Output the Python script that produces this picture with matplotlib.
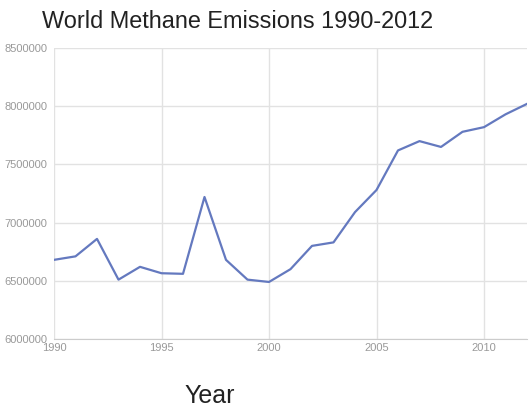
import matplotlib.pyplot as plt
import numpy as np

plt.rcParams['font.family'] = ['Liberation Sans', 'DejaVu Sans']

years = np.arange(1990, 2013)
emissions = [6680000, 6710000, 6860000, 6510000, 6620000, 6565000, 6560000,
             7220000, 6680000, 6510000, 6490000, 6600000, 6800000, 6830000,
             7090000, 7280000, 7620000, 7700000, 7650000, 7780000, 7820000,
             7930000, 8020000]
y_ticks = [6000000, 6500000, 7000000, 7500000, 8000000, 8500000]
x_ticks = [1990, 1995, 2000, 2005, 2010]

W, H = 531, 408
fig = plt.figure(figsize=(W / 100, H / 100), dpi=100)
fig.patch.set_facecolor('white')
left, right, top, bottom = 54, 527, 48, 339
ax = fig.add_axes([left / W, 1 - bottom / H, (right - left) / W, (bottom - top) / H])

ax.plot(years, emissions, color='#6479bf', linewidth=1.6, solid_joinstyle='round')

ax.set_xlim(1990, 2012)
ax.set_ylim(6000000, 8500000)
ax.set_xticks(x_ticks)
ax.set_yticks(y_ticks)
ax.set_yticklabels([str(v) for v in y_ticks])
ax.grid(True, color='#e2e2e2', linewidth=1.0)
ax.set_axisbelow(True)
for s in ['top', 'right', 'left']:
    ax.spines[s].set_visible(False)
ax.spines['bottom'].set_color('#cccccc')
ax.tick_params(length=0, labelsize=8, labelcolor='#999999', pad=5)
ax.tick_params(axis='x', pad=3)

fig.text(42 / W, 1 - 22 / H, 'World Methane Emissions 1990-2012', fontsize=16.9,
         color='#222222', va='center', ha='left')
fig.text(210 / W, 1 - 396 / H, 'Year', fontsize=18, color='#222222',
         va='center', ha='center')

plt.savefig('out.png', dpi=100, facecolor='white')
